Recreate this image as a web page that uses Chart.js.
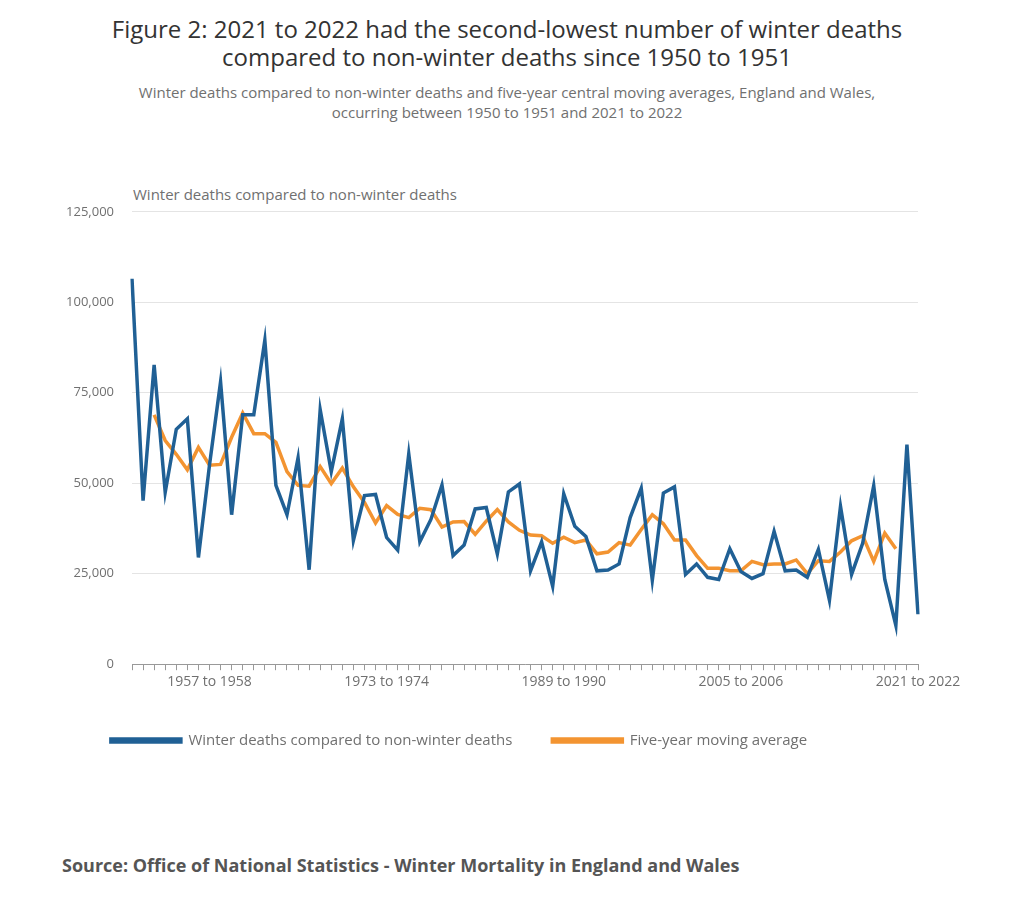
<!DOCTYPE html>
<html>
<head>
<meta charset="utf-8">
<script src="https://cdn.jsdelivr.net/npm/chart.js@4"></script>
<style>
body { margin: 0; background: #fff; font-family: "Open Sans", sans-serif; }
#title { position: absolute; top: 15px; left: 0; width: 1014px; text-align: center; font-size: 24px; color: #333; line-height: 28px; }
#sub { position: absolute; top: 82px; left: 0; width: 1014px; text-align: center; font-size: 15px; color: #707070; line-height: 20px; }
#ytitle { position: absolute; top: 184px; left: 133px; font-size: 15px; color: #707070; }
#box { position: absolute; top: 186px; left: 0; width: 1024px; height: 572px; }
#src { position: absolute; top: 853px; left: 62px; font-size: 18px; font-weight: bold; color: #555; }
</style>
</head>
<body>
<div id="title">Figure 2: 2021 to 2022 had the second-lowest number of winter deaths<br>compared to non-winter deaths since 1950 to 1951</div>
<div id="sub">Winter deaths compared to non-winter deaths and five-year central moving averages, England and Wales,<br>occurring between 1950 to 1951 and 2021 to 2022</div>
<div id="ytitle">Winter deaths compared to non-winter deaths</div>
<div id="box"><canvas id="c"></canvas></div>
<div id="src">Source: Office of National Statistics - Winter Mortality in England and Wales</div>
<script>
const years = [];
for (let y = 1950; y <= 2021; y++) years.push(y + ' to ' + (y + 1));
const shownLabels = ['1957 to 1958', '1973 to 1974', '1989 to 1990', '2005 to 2006', '2021 to 2022'];

// Winter deaths compared to non-winter deaths, 1950 to 1951 ... 2021 to 2022
const winterDeaths = [
  106500, 45200, 82700, 47500, 64900, 67800, 29500, 55000, 78000, 41300,
  68900, 68900, 89500, 49400, 41300, 57000, 26100, 70300, 53200, 67800,
  34200, 46600, 46900, 35000, 31500, 58100, 33800, 40000, 49500, 30000,
  32900, 42900, 43300, 30500, 47600, 49800, 25800, 33800, 21500, 47100,
  38100, 35300, 25800, 26000, 27700, 40500, 48600, 23200, 47300, 49000,
  24800, 27700, 24000, 23400, 31900, 25600, 23700, 25000, 36700, 25800,
  26000, 24000, 31700, 17700, 43600, 24800, 33400, 49300, 23400, 10700,
  60700, 13800
];
// Five-year central moving average, 1952 to 1953 ... 2019 to 2020
const movingAvg = [
  null, null,
  68900, 61800, 58000, 53700, 59900, 55000, 55200, 62700, 69400, 63700,
  63700, 61300, 53200, 49400, 49200, 54600, 49900, 54200, 49000, 44700,
  39000, 43800, 41400, 40500, 43100, 42700, 37900, 39300, 39400, 35900,
  39500, 42700, 39300, 37000, 35700, 35500, 33400, 35100, 33600, 34300,
  30500, 31000, 33600, 32900, 37200, 41300, 38800, 34300, 34300, 30000,
  26500, 26500, 25800, 25800, 28400, 27500, 27700, 27700, 28800, 25000,
  28600, 28400, 31000, 34100, 35500, 28400, 36200, 31900,
  null, null
];
const yTicks = [0, 25000, 50000, 75000, 100000, 125000];

new Chart(document.getElementById('c'), {
  type: 'line',
  data: {
    labels: years,
    datasets: [{
      label: 'Winter deaths compared to non-winter deaths',
      data: winterDeaths,
      borderColor: '#206095',
      backgroundColor: '#206095',
      borderWidth: 3.5,
      pointRadius: 0,
      tension: 0
    }, {
      label: 'Five-year moving average',
      data: movingAvg,
      borderColor: '#f39431',
      backgroundColor: '#f39431',
      borderWidth: 3.5,
      pointRadius: 0,
      tension: 0
    }]
  },
  options: {
    responsive: true,
    maintainAspectRatio: false,
    animation: false,
    layout: { padding: { right: 106, top: 0 } },
    plugins: {
      legend: {
        position: 'bottom',
        labels: {
          boxWidth: 70, boxHeight: 3, padding: 40,
          color: '#707070', font: { family: 'Open Sans', size: 15 }
        }
      },
      tooltip: { enabled: false }
    },
    scales: {
      x: {
        grid: { drawOnChartArea: false, drawTicks: true, tickLength: 6, color: '#999' },
        border: { color: '#999' },
        ticks: {
          autoSkip: false, maxRotation: 0, color: '#707070',
          font: { family: 'Open Sans', size: 14 },
          callback: function (v, i) { return shownLabels.includes(years[i]) ? years[i] : ''; }
        }
      },
      y: {
        min: 0, max: 125000,
        afterFit: function (s) { s.width = 132; },
        afterBuildTicks: function (s) { s.ticks = yTicks.map(v => ({ value: v })); },
        grid: { color: '#e4e4e4', drawTicks: false },
        border: { display: false },
        ticks: {
          color: '#707070', padding: 18,
          font: { family: 'Open Sans', size: 13 },
          callback: v => v.toLocaleString('en-GB')
        }
      }
    }
  }
});
</script>
</body>
</html>
